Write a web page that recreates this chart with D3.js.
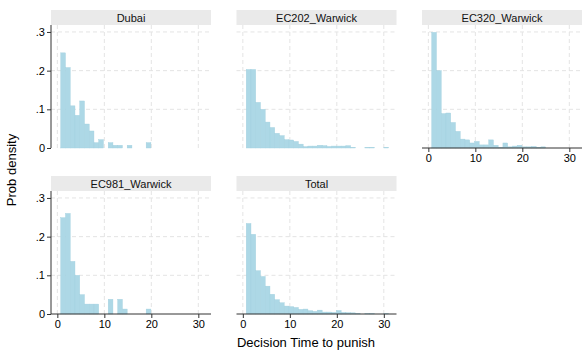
<!DOCTYPE html>
<html>
<head>
<meta charset="utf-8">
<script src="https://cdn.jsdelivr.net/npm/d3@7"></script>
<style>
  html, body { margin: 0; padding: 0; background: #fff; }
  svg { display: block; font-family: "Liberation Sans", Arial, Helvetica, sans-serif; }
</style>
</head>
<body>
<svg id="chart" width="586" height="356"></svg>
<script>
// ---- data ----
const panelNames = ["Dubai", "EC202_Warwick", "EC320_Warwick", "EC981_Warwick", "Total"];
const binStart = 0.72;
const binWidth = 1.01;
const dubai = [.246, .208, .109, .0845, .1216, .062, .044, .0138, .0216, 0, .0138, .007, .007, 0, .007, 0, 0, 0, .0138];
const ec202 = [.203, .203, .118, .100, .067, .053, .038, .032, .0215, .0207, .017, .010, .0035, .005, .005, .007, .006, .004, .005, .005, .005, .006, .002, 0, 0, .002, .002, 0, 0, .002];
const ec320 = [.299, .200, .089, .0905, .066, .043, .023, .021, .013, .017, .008, .008, .021, .007, .002, .013, .003, .005, .007, .003, .003, .004, .002, .003];
const ec981 = [.249, .260, .136, .100, .050, .0256, .0256, .0256, 0, 0, .038, 0, .038, .0128, 0, 0, 0, 0, .0128];
const total = [.234, .206, .112, .097, .072, .051, .037, .029, .0205, .019, .017, .012, .0128, .0085, .0068, .010, .005, .005, .004, .009, .004, .0034, .003, .0017, 0, .001, .001, 0, 0, .001];
const seriesValues = [dubai, ec202, ec320, ec981, total];
const xTicks = [0, 10, 20, 30];
const yTicks = [0, .1, .2, .3];
const yTickLabels = ["0", ".1", ".2", ".3"];
const xTitle = "Decision Time to punish";
const yTitle = "Prob density";

// ---- layout ----
const svg = d3.select("#chart");
const colLeft = [51, 236.5, 422];
const rowTop = [10, 176];
const pw = 160, headerH = 15, ph = 123;
const showXAxis = [false, false, true, true, true];
const showYAxis = [true, false, false, true, false];
const barFill = "#add8e6";
const gridColor = "#e4e4e4";
const axisColor = "#333";

panelNames.forEach((name, i) => {
  const col = i % 3, row = Math.floor(i / 3);
  const x0 = colLeft[col], top = rowTop[row];
  const g = svg.append("g").attr("transform", `translate(${x0},${top})`);

  // header
  g.append("rect").attr("x", 0).attr("y", 0).attr("width", pw).attr("height", headerH).attr("fill", "#eaeaea");
  g.append("text").attr("x", pw / 2).attr("y", headerH / 2 + 4).attr("text-anchor", "middle")
    .attr("font-size", 11).attr("fill", "#111").text(name);

  const plot = g.append("g").attr("transform", `translate(0,${headerH})`);
  const x = d3.scaleLinear().domain([-1.35, 32.7]).range([0, pw]);
  const y = d3.scaleLinear().domain([0, 0.318]).range([ph, 0]);

  // gridlines
  plot.append("g").selectAll("line.v").data(xTicks).join("line")
    .attr("x1", d => x(d)).attr("x2", d => x(d)).attr("y1", 0).attr("y2", ph)
    .attr("stroke", gridColor).attr("stroke-width", 1).attr("stroke-dasharray", "4,3");
  plot.append("g").selectAll("line.h").data(yTicks.filter(d => d > 0)).join("line")
    .attr("x1", 0).attr("x2", pw).attr("y1", d => y(d)).attr("y2", d => y(d))
    .attr("stroke", gridColor).attr("stroke-width", 1).attr("stroke-dasharray", "4,3");

  // bars
  const vals = seriesValues[i];
  plot.append("g").selectAll("rect").data(vals.map((v, k) => ({ v, k })).filter(d => d.v > 0)).join("rect")
    .attr("x", d => x(binStart + d.k * binWidth))
    .attr("width", d => x(binStart + (d.k + 1) * binWidth) - x(binStart + d.k * binWidth))
    .attr("y", d => y(d.v))
    .attr("height", d => y(0) - y(d.v))
    .attr("fill", barFill).attr("stroke", "#a2d0df").attr("stroke-width", 0.4);

  // axes
  if (showYAxis[i]) {
    const ya = plot.append("g").call(d3.axisLeft(y).tickValues(yTicks).tickFormat((d, j) => yTickLabels[j]).tickSize(4).tickPadding(2));
    ya.select(".domain").attr("stroke", axisColor).attr("d", `M0,0V${ph}`);
    ya.selectAll(".tick line").attr("stroke", axisColor);
    ya.selectAll("text").attr("font-size", 11).attr("fill", "#000").attr("font-family", null);
  }
  if (showXAxis[i]) {
    const xa = plot.append("g").attr("transform", `translate(0,${ph})`)
      .call(d3.axisBottom(x).tickValues(xTicks).tickFormat(d3.format("d")).tickSize(4).tickPadding(2));
    xa.select(".domain").attr("stroke", axisColor).attr("d", `M0,0H${pw}`);
    xa.selectAll(".tick line").attr("stroke", axisColor);
    xa.selectAll("text").attr("font-size", 11).attr("fill", "#000").attr("font-family", null);
  }
});

// axis titles
svg.append("text").attr("x", 306).attr("y", 347).attr("text-anchor", "middle")
  .attr("font-size", 13).attr("fill", "#000").text(xTitle);
svg.append("text").attr("transform", "translate(16,170) rotate(-90)").attr("text-anchor", "middle")
  .attr("font-size", 13).attr("fill", "#000").text(yTitle);
</script>
</body>
</html>
